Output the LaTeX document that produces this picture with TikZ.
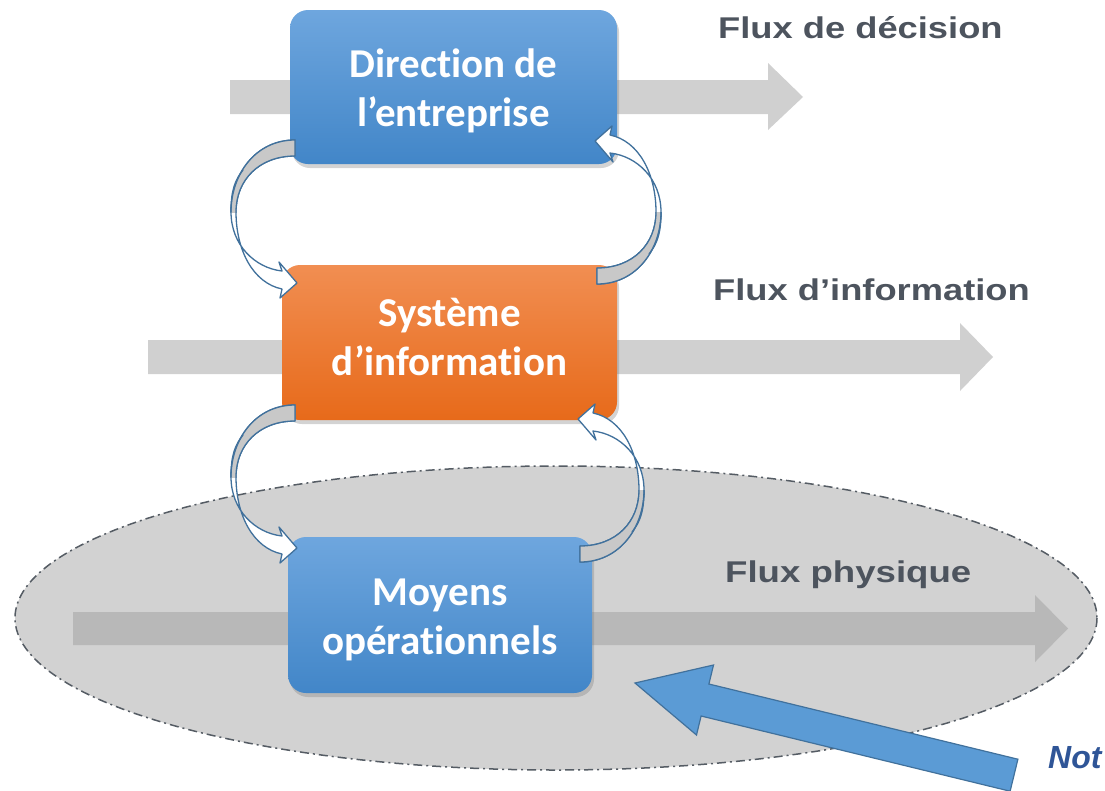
\documentclass[tikz,border=0pt]{standalone}
\usepackage{fontspec}
\setmainfont{Carlito}[Ligatures=NoCommon]
\newfontfamily\lsans{Liberation Sans}
\usetikzlibrary{shadows}
\definecolor{bluetop}{RGB}{110,166,222}
\definecolor{bluebot}{RGB}{66,134,200}
\definecolor{orgtop}{RGB}{241,142,82}
\definecolor{orgbot}{RGB}{231,106,26}
\definecolor{flowgray}{RGB}{208,208,208}
\definecolor{flowdark}{RGB}{184,184,184}
\definecolor{ellgray}{RGB}{210,210,210}
\definecolor{ellline}{RGB}{85,92,100}
\definecolor{labgray}{RGB}{77,84,94}
\definecolor{arrline}{RGB}{65,113,156}
\definecolor{arrfill}{RGB}{91,155,213}
\definecolor{notblue}{RGB}{47,85,151}
\definecolor{backgray}{RGB}{200,200,200}
\begin{document}
\begin{tikzpicture}[x=1pt,y=-1pt,
  box/.style={rounded corners=18pt, inner sep=0pt, align=center, text=white,
    font=\fontsize{41}{49}\selectfont\bfseries, text height=79pt, text depth=0pt,
    drop shadow={opacity=0.35, shadow xshift=2pt, shadow yshift=-4pt}},
  bluebox/.style={box, top color=bluetop, bottom color=bluebot},
  orangebox/.style={box, top color=orgtop, bottom color=orgbot},
  fluxlabel/.style={anchor=base west, inner sep=0pt, text=labgray,
    font=\lsans\fontsize{30}{36}\selectfont\bfseries},
  looparrow/.pic={
    \path[fill=white, draw=arrline, line width=1.3pt, line join=round]
      (0,0) .. controls (-40,0) and (-64,35) .. (-64,72)
      .. controls (-64,105) and (-40,128) .. (-13,131)
      -- (-16,122) -- (2,143) -- (-15,158) -- (-13,149)
      .. controls (-42,143) and (-59,110) .. (-59,72)
      .. controls (-59,40) and (-36,16) .. (0,16) -- cycle;
    \begin{scope}
      \clip (-80,-10) rectangle (10,72);
      \path[fill=backgray, draw=arrline, line width=1.3pt, line join=round]
        (0,0) .. controls (-40,0) and (-64,35) .. (-64,72)
        .. controls (-64,105) and (-40,128) .. (-13,131)
        -- (-16,122) -- (2,143) -- (-15,158) -- (-13,149)
        .. controls (-42,143) and (-59,110) .. (-59,72)
        .. controls (-59,40) and (-36,16) .. (0,16) -- cycle;
    \end{scope}
    \draw[arrline, line width=1.3pt] (-64,72) .. controls (-64,50) and (-60,40) .. (-52,30);
  }]
\useasboundingbox (0,0) rectangle (1105,790);
\clip (0,0) rectangle (1105,790);

% ellipse
\draw[fill=ellgray, draw=ellline, line width=1.5pt,
  dash pattern=on 9pt off 4pt on 2pt off 4pt]
  (556,618) ellipse [x radius=541, y radius=152];

% flux arrows
\fill[flowgray] (230,80) -- (768,80) -- (768,63) -- (803,97) -- (768,130) -- (768,114) -- (230,114) -- cycle;
\fill[flowgray] (148,340) -- (960,340) -- (960,323) -- (993,357) -- (960,391) -- (960,374) -- (148,374) -- cycle;
\fill[flowdark] (73,612) -- (1035,612) -- (1035,595) -- (1068,628.5) -- (1035,662) -- (1035,645) -- (73,645) -- cycle;

% labels
\node[fluxlabel] (ldec) at (718,38) {\scalebox{1.21}[1]{Flux de décision}};
\node[fluxlabel] (linf) at (713,300) {\scalebox{1.21}[1]{Flux d’information}};
\node[fluxlabel] (lphy) at (725,582) {\scalebox{1.22}[1]{Flux physique}};

% boxes
\node[bluebox, minimum width=327pt, minimum height=154pt] (dir) at (453.5,87) {Direction de\\l’entreprise};
\node[orangebox, minimum width=335pt, minimum height=155pt, text depth=14pt] (sys) at (449.5,342.5) {Système\\d’information};
\node[bluebox, minimum width=304pt, minimum height=156pt] (moy) at (440,615) {Moyens\\opérationnels};

% loop arrows
\coordinate (a1) at (295,140);
\coordinate (a2) at (597,284);
\coordinate (a3) at (295,405);
\coordinate (a4) at (580,562);
\pic at (a1) {looparrow};
\pic[rotate=180] at (a2) {looparrow};
\pic at (a3) {looparrow};
\pic[rotate=180] at (a4) {looparrow};

% pointer arrow
\coordinate (ptip) at (635,683);
\path[fill=arrfill, draw=arrline, line width=1.2pt, line join=miter]
  (ptip) -- (713.5,665) -- (708.9,684) -- (1017.9,759.2) -- (1010.1,791.2)
  -- (701.1,716) -- (696.5,735) -- cycle;

\node[anchor=base west, inner sep=0pt, text=notblue,
  font=\lsans\fontsize{32}{38}\selectfont\bfseries\itshape] (note) at (1048,768) {Not};
\end{tikzpicture}
\end{document}
